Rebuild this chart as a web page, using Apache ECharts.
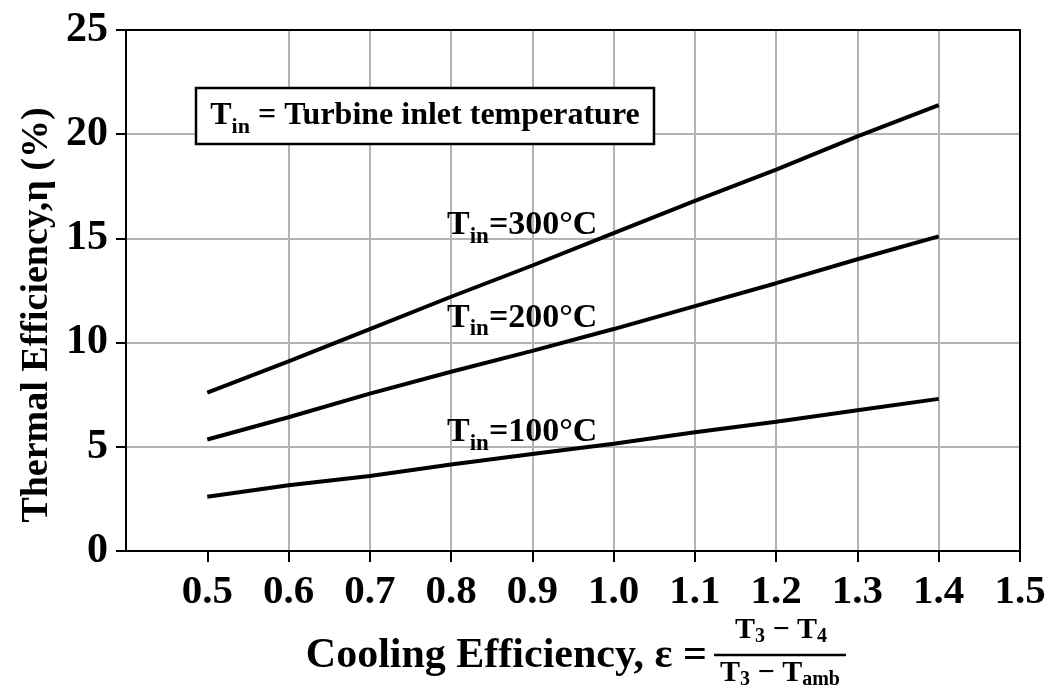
<!DOCTYPE html>
<html><head><meta charset="utf-8">
<script src="https://cdn.jsdelivr.net/npm/echarts@6/dist/echarts.min.js"></script>
<style>html,body{margin:0;padding:0;background:#fff}#c{width:1052px;height:691px}</style>
</head><body><div id="c"></div>
<script>
// ---- data ----
const coolingEff = [0.5, 0.6, 0.7, 0.8, 0.9, 1.0, 1.1, 1.2, 1.3, 1.4];
const eta300 = [7.6, 9.1, 10.65, 12.2, 13.7, 15.25, 16.8, 18.3, 19.9, 21.4];
const eta200 = [5.35, 6.42, 7.55, 8.6, 9.6, 10.65, 11.75, 12.85, 14.0, 15.1];
const eta100 = [2.6, 3.15, 3.6, 4.15, 4.65, 5.15, 5.7, 6.2, 6.75, 7.3];
const seriesLabels = ['=300°C', '=200°C', '=100°C'];
const xTickValues = [0.5, 0.6, 0.7, 0.8, 0.9, 1.0, 1.1, 1.2, 1.3, 1.4, 1.5];
const labelAnchorX = [0.795, 0.795, 0.795];
const labelAnchorY = [16.45, 12.0, 6.5];
const xMin = 0.4, xMax = 1.5, xStep = 0.1;
const yMin = 0, yMax = 25, yStep = 5;

const F = '"Liberation Serif","Times New Roman",serif';
const chart = echarts.init(document.getElementById('c'), null, {renderer: 'canvas'});

function pairs(ys) { return coolingEff.map((x, i) => [x, ys[i]]); }
function lineSeries(name, ys) {
  return {
    name, type: 'line', data: pairs(ys), showSymbol: false, symbol: 'none',
    lineStyle: {color: '#000', width: 4}, xAxisIndex: 0, yAxisIndex: 0,
    silent: true, animation: false
  };
}

const grey = '#b3b3b3';
const option = {
  animation: false,
  backgroundColor: '#fff',
  grid: {left: 126, right: 32, top: 30, bottom: 140},
  xAxis: [{
    type: 'value', min: xMin, max: xMax, interval: xStep,
    axisLine: {show: true, onZero: false, lineStyle: {color: '#000', width: 2}},
    axisTick: {show: true, inside: false, length: 11, customValues: xTickValues, lineStyle: {color: '#000', width: 2}},
    axisLabel: {
      margin: 21, color: '#000', fontFamily: F, fontWeight: 'bold', fontSize: 41,
      customValues: xTickValues,
      formatter: v => Number(v).toFixed(1)
    },
    splitLine: {show: true, showMinLine: false, showMaxLine: false, lineStyle: {color: grey, width: 2}}
  }, {
    type: 'value', position: 'top', min: xMin, max: xMax, interval: xStep,
    axisLine: {show: true, onZero: false, lineStyle: {color: '#000', width: 2}},
    axisTick: {show: false}, axisLabel: {show: false}, splitLine: {show: false}
  }],
  yAxis: [{
    type: 'value', min: yMin, max: yMax, interval: yStep,
    axisLine: {show: true, onZero: false, lineStyle: {color: '#000', width: 2}},
    axisTick: {show: true, inside: false, length: 10, lineStyle: {color: '#000', width: 2}},
    axisLabel: {margin: 18, color: '#000', fontFamily: F, fontWeight: 'bold', fontSize: 42},
    splitLine: {show: true, showMinLine: false, showMaxLine: false, lineStyle: {color: grey, width: 2}}
  }, {
    type: 'value', position: 'right', min: yMin, max: yMax, interval: yStep,
    axisLine: {show: true, onZero: false, lineStyle: {color: '#000', width: 2}},
    axisTick: {show: false}, axisLabel: {show: false}, splitLine: {show: false}
  }],
  series: [
    lineSeries('T_in' + seriesLabels[0], eta300),
    lineSeries('T_in' + seriesLabels[1], eta200),
    lineSeries('T_in' + seriesLabels[2], eta100)
  ]
};
chart.setOption(option);

const richT = (fs, lh) => ({fontSize: fs, fontWeight: 'bold', fontFamily: F, lineHeight: lh, verticalAlign: 'top', fill: '#000'});
const richS = (fs, pad) => ({fontSize: fs, fontWeight: 'bold', fontFamily: F, padding: [pad, 0, 0, 0], verticalAlign: 'bottom', fill: '#000'});

const graphics = [];
// curve labels anchored in data coordinates
seriesLabels.forEach((lab, i) => {
  const p = chart.convertToPixel({gridIndex: 0}, [labelAnchorX[i], labelAnchorY[i]]);
  graphics.push({
    type: 'text', x: p[0], y: p[1], z: 10,
    style: {
      text: '{t|T}{s|in}{t|' + lab + '}', align: 'left', verticalAlign: 'top',
      rich: {t: richT(34, 36), s: richS(23, 17)}
    }
  });
});
// legend-like box
graphics.push({
  type: 'rect', shape: {x: 196, y: 88, width: 458, height: 56}, z: 9,
  style: {fill: '#fff', stroke: '#000', lineWidth: 2.5}
});
graphics.push({
  type: 'text', x: 425, y: 100, z: 10,
  style: {
    text: '{t|T}{s|in}{t| = Turbine inlet temperature}', align: 'center', verticalAlign: 'top',
    rich: {t: richT(32, 34), s: richS(22, 16)}
  }
});
// y axis title
graphics.push({
  type: 'text', x: 37, y: 315, rotation: Math.PI / 2, z: 10,
  style: {
    text: 'Thermal Efficiency,η (%)', align: 'center', verticalAlign: 'middle',
    font: 'bold 38px ' + F, fill: '#000'
  }
});
// x axis title
graphics.push({
  type: 'text', x: 707, y: 656, z: 10,
  style: {
    text: 'Cooling Efficiency, ε =', align: 'right', verticalAlign: 'middle',
    font: 'bold 42px ' + F, fill: '#000'
  }
});
graphics.push({
  type: 'text', x: 781, y: 615, z: 10,
  style: {
    text: '{t|T}{s|3}{t| − T}{s|4}', align: 'center', verticalAlign: 'top',
    rich: {t: richT(30, 30), s: richS(20, 12)}
  }
});
graphics.push({
  type: 'line', shape: {x1: 714, y1: 655, x2: 846, y2: 655}, z: 10,
  style: {stroke: '#000', lineWidth: 2.5}
});
graphics.push({
  type: 'text', x: 780, y: 658, z: 10,
  style: {
    text: '{t|T}{s|3}{t| − T}{s|amb}', align: 'center', verticalAlign: 'top',
    rich: {t: richT(30, 30), s: richS(20, 12)}
  }
});
chart.setOption({graphic: graphics});
</script>
</body></html>
